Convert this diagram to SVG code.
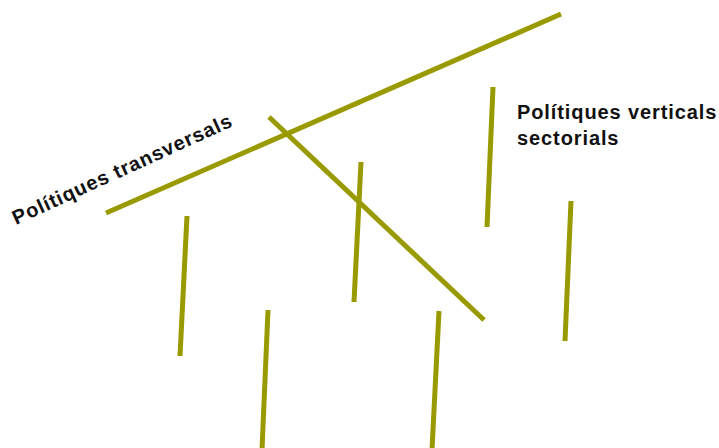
<svg xmlns="http://www.w3.org/2000/svg" width="719" height="448" viewBox="0 0 719 448">
<style>
.l{stroke:#999900;stroke-width:5;fill:none;stroke-linecap:butt}
.t{font-family:"Liberation Sans",Arial,sans-serif;font-weight:bold;font-size:20px;letter-spacing:0.9px;fill:#111}
</style>
<rect width="719" height="448" fill="#fff"/>
<g id="lines">
<line class="l" x1="106" y1="213" x2="561" y2="14"/>
<line class="l" x1="269" y1="117" x2="484" y2="320"/>
<line class="l" x1="187" y1="216" x2="180" y2="356"/>
<line class="l" x1="268" y1="310" x2="262" y2="450"/>
<line class="l" x1="361" y1="162" x2="354" y2="302"/>
<line class="l" x1="439" y1="311" x2="432" y2="450"/>
<line class="l" x1="493" y1="87" x2="487" y2="227"/>
<line class="l" x1="571" y1="201" x2="565" y2="341"/>
</g>
<g id="label-transversals">
<text class="t" transform="translate(16,225) rotate(-24.5)">Polítiques transversals</text>
</g>
<g id="label-verticals">
<text class="t" x="517" y="119">Polítiques verticals</text>
<text class="t" x="517" y="145">sectorials</text>
</g>
</svg>
